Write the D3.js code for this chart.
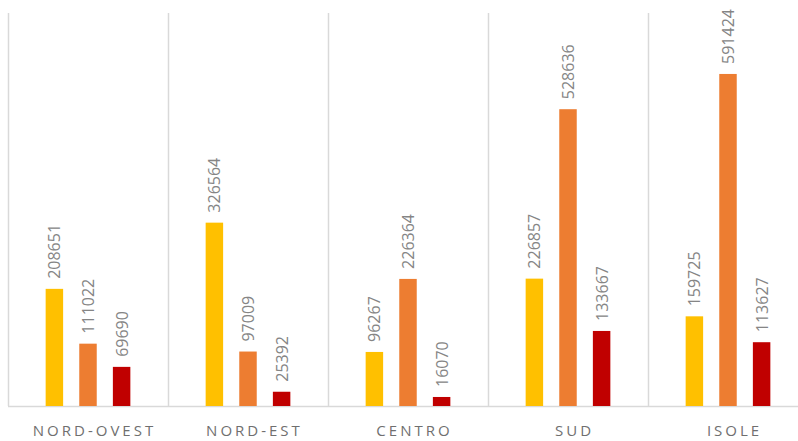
<!DOCTYPE html>
<html>
<head>
<meta charset="utf-8">
<script src="https://cdn.jsdelivr.net/npm/d3@7"></script>
<style>
  body { margin: 0; background: #fff; }
  svg { display: block; }
</style>
</head>
<body>
<div id="chart"></div>
<script>
// Data
const regions = ["NORD-OVEST", "NORD-EST", "CENTRO", "SUD", "ISOLE"];
const seriesNames = ["s1", "s2", "s3"];
const s1 = [208651, 326564, 96267, 226857, 159725];
const s2 = [111022, 97009, 226364, 528636, 591424];
const s3 = [69690, 25392, 16070, 133667, 113627];
const colors = ["#FFC000", "#ED7D31", "#C00000"];

const W = 798, H = 441;
const plotLeft = 8, plotTop = 13, base = 406;

const svg = d3.select("#chart")
  .append("svg")
    .attr("width", W)
    .attr("height", H);

// Scales
const x0 = d3.scaleBand()
  .domain(regions)
  .range([plotLeft, plotLeft + 160 * regions.length]);

const x1 = d3.scaleBand()
  .domain(seriesNames)
  .range([0, x0.bandwidth()])
  .paddingInner(0.48)
  .paddingOuter(1.12);

const y = d3.scaleLinear()
  .domain([0, 700000])
  .range([base, plotTop]);

// Separators
svg.append("g")
  .selectAll("line")
  .data(regions)
  .join("line")
    .attr("x1", d => x0(d) + 0.5)
    .attr("x2", d => x0(d) + 0.5)
    .attr("y1", plotTop)
    .attr("y2", base)
    .attr("stroke", "#d9d9d9")
    .attr("stroke-width", 1.5);

// Baseline
svg.append("line")
  .attr("x1", plotLeft)
  .attr("x2", W)
  .attr("y1", base + 0.5)
  .attr("y2", base + 0.5)
  .attr("stroke", "#d9d9d9")
  .attr("stroke-width", 1.5);

const rows = regions.map((r, i) => ({
  region: r,
  vals: [s1[i], s2[i], s3[i]].map((v, j) => ({ key: seriesNames[j], v, c: colors[j] }))
}));

const groups = svg.append("g")
  .selectAll("g")
  .data(rows)
  .join("g")
    .attr("transform", d => `translate(${x0(d.region)},0)`);

// Bars
groups.selectAll("rect")
  .data(d => d.vals)
  .join("rect")
    .attr("x", d => x1(d.key))
    .attr("y", d => y(d.v))
    .attr("width", x1.bandwidth())
    .attr("height", d => base - y(d.v))
    .attr("fill", d => d.c);

// Value labels
groups.selectAll("text")
  .data(d => d.vals)
  .join("text")
    .attr("transform", d => `translate(${x1(d.key) + x1.bandwidth() / 2},${y(d.v) - 10}) rotate(-90)`)
    .attr("text-anchor", "start")
    .attr("dominant-baseline", "central")
    .attr("font-family", "'Open Sans', sans-serif")
    .attr("font-size", 16)
    .attr("fill", "#858585")
    .text(d => d.v);

// Category labels
svg.append("g")
  .selectAll("text")
  .data(regions)
  .join("text")
    .attr("x", d => x0(d) + x0.bandwidth() / 2 + 6.5)
    .attr("y", 436)
    .attr("text-anchor", "middle")
    .attr("font-family", "'Open Sans', sans-serif")
    .attr("font-size", 15)
    .attr("letter-spacing", 3)
    .attr("fill", "#6f6f6f")
    .text(d => d);
</script>
</body>
</html>
